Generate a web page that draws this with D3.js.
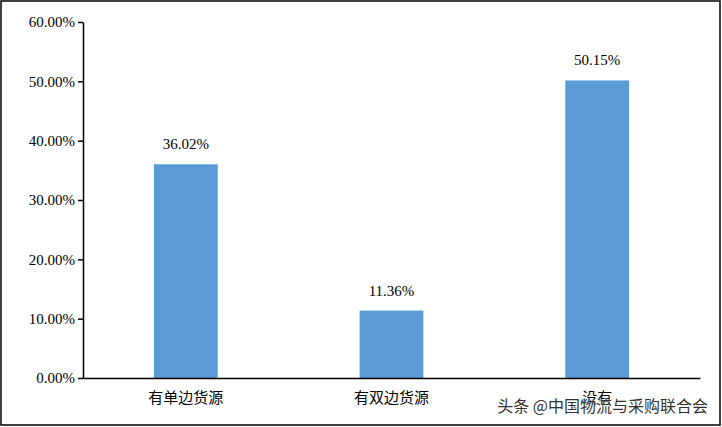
<!DOCTYPE html>
<html><head><meta charset="utf-8">
<script src="https://cdn.jsdelivr.net/npm/d3@7"></script>
<style>body{margin:0;background:#fff}</style>
</head><body>
<script>
var categories = ["有单边货源", "有双边货源", "没有"];
var values = [36.02, 11.36, 50.15];
var ticks = [0, 10, 20, 30, 40, 50, 60];

var W = 722, H = 427;
var margin = { left: 83, right: 22, top: 22, bottom: 49 };

var svg = d3.select("body").append("svg")
    .attr("width", W).attr("height", H);

svg.append("rect")
    .attr("x", 1).attr("y", 1).attr("width", W - 3).attr("height", H - 3)
    .attr("fill", "#fff").attr("stroke", "#000").attr("stroke-width", 1.5);

var x = d3.scaleBand().domain(categories)
    .range([margin.left, W - margin.right]).paddingInner(0.69).paddingOuter(0.345);
var y = d3.scaleLinear().domain([0, 60]).range([H - margin.bottom, margin.top]);

var font = "'Times New Roman', 'Liberation Serif', serif";

var yAxis = svg.append("g")
    .attr("transform", "translate(" + margin.left + ",0)")
    .call(d3.axisLeft(y).tickValues(ticks).tickSize(5).tickSizeOuter(0)
        .tickFormat(function (d) { return d.toFixed(2) + "%"; }));
yAxis.selectAll("text").attr("font-family", font).attr("font-size", 15).attr("fill", "#000");
yAxis.selectAll("line,path").attr("stroke", "#000").attr("stroke-width", 1.5);

svg.selectAll(".bar").data(values).enter().append("rect")
    .attr("x", function (d, i) { return x(categories[i]); })
    .attr("width", x.bandwidth())
    .attr("y", function (d) { return y(d); })
    .attr("height", function (d) { return y(0) - y(d); })
    .attr("fill", "#5b9bd5");

svg.selectAll(".lbl").data(values).enter().append("text")
    .attr("x", function (d, i) { return x(categories[i]) + x.bandwidth() / 2; })
    .attr("y", function (d) { return y(d) - 15; })
    .attr("text-anchor", "middle")
    .attr("font-family", font).attr("font-size", 15)
    .text(function (d) { return d.toFixed(2) + "%"; });

var xAxis = svg.append("g")
    .attr("transform", "translate(0," + y(0) + ")")
    .call(d3.axisBottom(x).tickSize(0).tickPadding(14));
xAxis.selectAll("text").attr("font-family", "'Noto Sans CJK SC', serif")
    .attr("font-size", 15).attr("fill", "#000");
xAxis.select(".domain").attr("stroke", "#000").attr("stroke-width", 1.5);

// watermark
svg.append("text")
    .attr("x", 708).attr("y", 412).attr("text-anchor", "end")
    .attr("font-family", "'Noto Sans CJK SC', sans-serif").attr("font-size", 16)
    .attr("fill", "#333").attr("stroke", "#fff").attr("stroke-width", 0.5)
    .attr("paint-order", "stroke")
    .text("头条 @中国物流与采购联合会");
</script>
</body></html>
